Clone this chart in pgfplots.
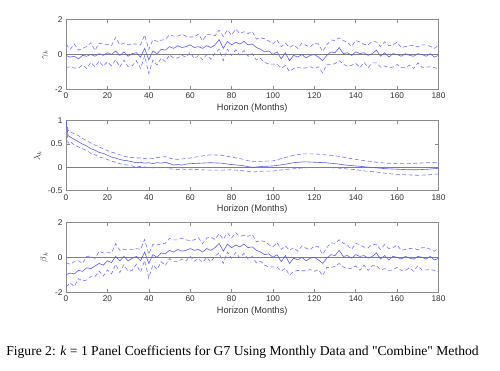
\documentclass[border=0pt]{standalone}
\usepackage{pgfplots}
\usepackage{pgfplotstable}
\pgfplotsset{compat=1.18}
\usepackage{fontspec}
\setmainfont{Liberation Sans}
\newfontfamily\capfont{Liberation Serif}
\definecolor{mblue}{rgb}{0.35,0.35,1}
\definecolor{dblue}{rgb}{0.45,0.45,1}

\pgfplotstableread{
x m1 u1 l1 m3 u3 l3
0 -0.05 0.6 -0.75 -1.0 -0.3 -1.7
2 -0.15 0.3 -0.7 -0.9 -0.4 -1.45
4 -0.1 0.6 -0.77 -0.95 -0.25 -1.67
6 -0.25 0.25 -0.77 -0.75 -0.2 -1.22
8 -0.05 0.35 -0.6 -0.8 -0.35 -1.35
10 -0.1 0.45 -0.8 -0.6 0.05 -1.3
12 0.0 0.67 -0.45 -0.65 0.07 -1.1
14 -0.1 0.23 -0.7 -0.5 -0.07 -1.1
16 0.05 0.65 -0.38 -0.35 0.35 -0.78
18 -0.05 0.6 -0.68 -0.45 0.25 -1.08
20 0.1 0.57 -0.42 -0.2 0.27 -0.72
22 0.0 0.5 -0.65 -0.3 0.25 -0.95
24 0.2 0.98 -0.3 0.05 0.78 -0.4
26 -0.05 0.55 -0.72 -0.2 0.4 -0.87
28 0.15 0.65 -0.32 0.05 0.45 -0.42
30 -0.1 0.55 -0.7 -0.2 0.45 -0.8
32 0.05 0.6 -0.65 -0.05 0.45 -0.75
34 0.1 0.6 -0.35 0.05 0.5 -0.4
36 -0.15 0.55 -0.8 -0.2 0.45 -0.85
38 0.35 1.12 -0.08 0.3 1.02 -0.18
40 -0.3 0.28 -1.08 -0.35 0.18 -1.18
42 0.2 0.85 -0.32 0.15 0.75 -0.42
44 0.05 0.75 -0.6 0.0 0.7 -0.7
46 0.3 0.82 -0.2 0.25 0.77 -0.25
48 0.25 0.85 -0.42 0.2 0.8 -0.47
50 0.45 1.13 -0.02 0.4 1.08 -0.07
52 0.35 1.05 -0.2 0.3 1.0 -0.25
54 0.5 1.05 -0.2 0.45 1.0 -0.25
56 0.4 1.15 -0.05 0.35 1.1 -0.1
58 0.45 1.05 -0.15 0.4 1.0 -0.2
60 0.55 1.0 0.12 0.5 0.95 0.07
62 0.4 1.0 -0.23 0.4 1.0 -0.23
64 0.45 1.17 -0.07 0.45 1.12 -0.07
66 0.35 0.78 -0.3 0.3 0.78 -0.3
68 0.5 1.15 0.0 0.5 1.1 0.0
70 0.4 1.15 -0.27 0.4 1.15 -0.27
72 0.55 1.07 0.08 0.55 1.02 0.08
74 0.85 1.4 0.3 0.8 1.35 0.25
76 0.35 1.03 -0.35 0.35 1.03 -0.35
78 0.75 1.4 0.3 0.75 1.4 0.3
80 0.55 1.1 -0.05 0.55 1.1 -0.05
82 0.7 1.45 0.27 0.7 1.4 0.27
84 0.6 1.2 -0.03 0.6 1.2 -0.03
86 0.75 1.3 0.23 0.75 1.25 0.23
88 0.55 1.2 -0.1 0.55 1.2 -0.1
90 0.6 1.32 0.05 0.6 1.32 0.05
92 0.4 0.88 -0.32 0.4 0.88 -0.32
94 0.3 0.95 -0.22 0.3 0.95 -0.22
96 0.15 0.9 -0.45 0.15 0.9 -0.45
98 0.2 0.77 -0.55 0.2 0.72 -0.55
100 0.0 0.6 -0.55 0.0 0.6 -0.55
102 0.15 0.83 -0.55 0.15 0.83 -0.55
104 -0.25 0.45 -0.78 -0.25 0.45 -0.78
106 0.1 0.65 -0.63 0.1 0.65 -0.63
108 -0.35 0.4 -0.97 -0.35 0.4 -1.02
110 -0.05 0.55 -0.8 -0.05 0.55 -0.8
112 -0.15 0.35 -0.75 -0.15 0.35 -0.75
114 0.0 0.65 -0.77 0.0 0.65 -0.77
116 -0.2 0.52 -0.77 -0.2 0.52 -0.77
118 -0.05 0.43 -0.7 -0.05 0.43 -0.7
120 0.0 0.65 -0.8 0.0 0.65 -0.8
122 -0.15 0.6 -0.7 -0.15 0.6 -0.7
124 -0.35 0.17 -1.05 -0.35 0.17 -1.05
126 -0.05 0.55 -0.58 -0.05 0.55 -0.58
128 0.15 0.83 -0.58 0.15 0.83 -0.58
130 0.1 0.8 -0.52 0.1 0.8 -0.52
132 0.4 0.95 -0.35 0.4 1.0 -0.35
134 0.05 0.8 -0.55 0.05 0.8 -0.55
136 0.1 0.7 -0.67 0.1 0.7 -0.67
138 -0.05 0.45 -0.62 -0.05 0.45 -0.62
140 0.15 0.8 -0.5 0.15 0.8 -0.5
142 0.05 0.72 -0.75 0.05 0.72 -0.75
144 0.1 0.58 -0.45 0.1 0.58 -0.45
146 -0.05 0.55 -0.75 -0.05 0.55 -0.75
148 0.05 0.75 -0.48 0.05 0.75 -0.48
150 0.25 0.72 -0.48 0.25 0.72 -0.48
152 -0.1 0.45 -0.72 -0.1 0.45 -0.72
154 0.1 0.73 -0.65 0.1 0.73 -0.65
156 -0.15 0.5 -0.75 -0.15 0.5 -0.75
158 0.05 0.55 -0.72 0.05 0.55 -0.72
160 0.0 0.7 -0.57 0.0 0.7 -0.57
162 -0.1 0.4 -0.75 -0.1 0.4 -0.75
164 0.05 0.45 -0.75 0.05 0.45 -0.75
166 -0.05 0.5 -0.6 -0.05 0.5 -0.6
168 -0.1 0.52 -0.8 -0.1 0.52 -0.8
170 0.05 0.43 -0.48 0.05 0.43 -0.48
172 0.0 0.55 -0.73 0.0 0.55 -0.73
174 -0.1 0.55 -0.72 -0.1 0.55 -0.72
176 0.05 0.47 -0.7 0.05 0.47 -0.7
178 -0.15 0.35 -0.75 -0.15 0.35 -0.75
180 -0.05 0.53 -0.82 -0.05 0.53 -0.82
}\noisy

\pgfplotstableread{
x m2 u2 l2
0 1.0 1.0 1.0
1 0.68 0.8 0.52
2 0.65 0.76 0.55
4 0.6 0.72 0.48
6 0.55 0.68 0.44
8 0.5 0.62 0.4
10 0.46 0.57 0.36
12 0.4 0.52 0.3
14 0.37 0.48 0.27
16 0.32 0.44 0.22
18 0.3 0.4 0.2
20 0.26 0.36 0.17
22 0.22 0.33 0.13
24 0.2 0.3 0.11
26 0.17 0.27 0.08
28 0.15 0.24 0.06
30 0.14 0.22 0.05
32 0.12 0.21 0.03
34 0.1 0.2 0.01
36 0.11 0.2 0.02
38 0.09 0.19 0.01
40 0.1 0.2 0.0
42 0.08 0.19 -0.01
44 0.1 0.21 0.0
46 0.09 0.22 -0.01
48 0.11 0.23 0.0
50 0.08 0.2 -0.03
52 0.05 0.18 -0.04
54 0.06 0.17 -0.05
56 0.05 0.18 -0.03
58 0.07 0.19 -0.05
60 0.08 0.2 -0.04
65 0.09 0.24 -0.05
70 0.1 0.27 -0.06
75 0.09 0.26 -0.06
80 0.06 0.22 -0.05
85 0.04 0.18 -0.07
90 0.0 0.12 -0.1
95 0.02 0.13 -0.08
100 0.03 0.14 -0.08
105 0.06 0.2 -0.05
110 0.1 0.26 -0.03
115 0.12 0.29 -0.01
120 0.11 0.29 0.0
125 0.1 0.27 0.0
130 0.08 0.25 -0.01
135 0.05 0.21 -0.03
140 0.03 0.17 -0.05
145 0.01 0.14 -0.08
150 -0.01 0.11 -0.1
155 -0.03 0.09 -0.13
160 -0.04 0.08 -0.15
165 -0.05 0.08 -0.16
170 -0.05 0.09 -0.17
175 -0.04 0.1 -0.16
180 -0.02 0.11 -0.14
}\smooth

\pgfplotsset{
  panel/.style={
    scale only axis, width=372.5pt, height=70pt,
    anchor=north west,
    xmin=0, xmax=180, xtick={0,20,...,180},
    axis line style={black!45, line width=0.6pt},
    tick style={black!45, line width=0.5pt},
    tick align=inside, major tick length=3.5pt,
    /pgf/number format/assume math mode=true,
    ticklabel style={font=\fontsize{8.3}{9}\selectfont, text=black!80},
    xlabel={Horizon (Months)},
    xlabel style={font=\fontsize{9.2}{10}\selectfont, text=black!80, yshift=2pt},
    ylabel style={font=\fontsize{9.2}{10}\selectfont, text=black!80},
    every axis plot/.append style={line width=0.5pt},
  },
  mean/.style={mblue, line width=0.6pt},
  band/.style={dblue, dash pattern=on 4pt off 2.5pt, line width=0.6pt},
  zero/.style={black!50, line width=0.9pt},
}

\begin{document}
\begin{tikzpicture}
\useasboundingbox (0pt,0pt) rectangle (500pt,-370pt);

\begin{axis}[panel, at={(66pt,-19.5pt)}, ymin=-2, ymax=2, ytick={-2,0,2}, ylabel={$\gamma_k$}]
\addplot[zero] coordinates {(0,0) (180,0)};
\addplot[band] table[x=x,y=u1] {\noisy};
\addplot[band] table[x=x,y=l1] {\noisy};
\addplot[mean] table[x=x,y=m1] {\noisy};
\end{axis}

\begin{axis}[panel, at={(66pt,-120.7pt)}, ymin=-0.5, ymax=1, ytick={-0.5,0,0.5,1}, ylabel={$\lambda_k$}]
\addplot[zero] coordinates {(0,0) (180,0)};
\addplot[band] table[x=x,y=u2] {\smooth};
\addplot[band] table[x=x,y=l2] {\smooth};
\addplot[mean] table[x=x,y=m2] {\smooth};
\end{axis}

\begin{axis}[panel, at={(66pt,-222.3pt)}, ymin=-2, ymax=2, ytick={-2,0,2}, ylabel={$\beta_k$}]
\addplot[zero] coordinates {(0,0) (180,0)};
\addplot[band] table[x=x,y=u3] {\noisy};
\addplot[band] table[x=x,y=l3] {\noisy};
\addplot[mean] table[x=x,y=m3] {\noisy};
\end{axis}

\node[font=\capfont\fontsize{13.6}{15}\selectfont, anchor=center] at (242.5pt,-352pt)
  {Figure 2: \textit{k} = 1 Panel Coefficients for G7 Using Monthly Data and "Combine" Method};
\end{tikzpicture}
\end{document}
